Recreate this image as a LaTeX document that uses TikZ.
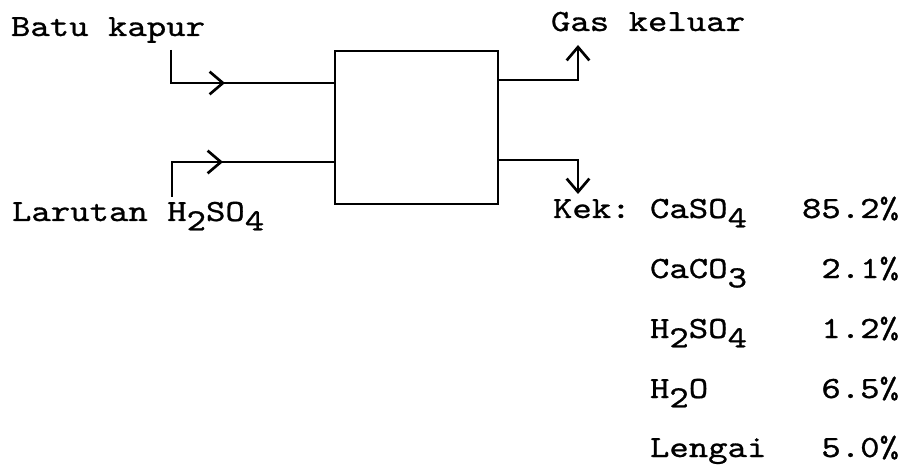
\documentclass[tikz,border=0pt]{standalone}
\usepackage{fontspec}
\newfontfamily\cour{lmmono10-regular.otf}[FakeStretch=1.2,FakeBold=0.9]
\usetikzlibrary{arrows.meta,decorations.markings}
\newcommand\sbs[1]{\raisebox{-7pt}{#1}}
\begin{document}
\begin{tikzpicture}[x=0.75pt,y=-0.75pt,
  lbl/.style={inner sep=0pt,outer sep=0pt,anchor=base west,font=\cour\fontsize{23.1}{28}\selectfont},
  num/.style={lbl,anchor=base east},
  flow/.style={line width=2pt},
  barbtip/.tip={Straight Barb[length=10pt,width=17pt]},
  midarrow/.style={postaction={decorate},decoration={markings,mark=at position #1 with {\arrow{barbtip}}}},
  unit/.style={draw,line width=2.2pt,rectangle,inner sep=0pt,outer sep=0pt,minimum width=122.25pt,minimum height=114.75pt}]
\useasboundingbox (0,0) rectangle (907,474);

\node[unit] (reactor) at (416.5,127.5) {};

\coordinate (batuin) at (171,50);
\coordinate (larin) at (172,197);
\coordinate (gasend) at (578,45);
\coordinate (kekend) at (578,194);

\draw[flow,midarrow=65.25pt] (batuin) |- (reactor.west |- 0,83);
\draw[flow,midarrow=64.5pt] (larin) |- (reactor.west |- 0,162);
\draw[flow,-barbtip] (reactor.east |- 0,80) -| (gasend);
\draw[flow,-barbtip] (reactor.east |- 0,160) -| (kekend);

\node[lbl] (batu) at (11,36) {Batu kapur};
\node[lbl] (larutan) at (12,221) {Larutan H\sbs{2}SO\sbs{4}};
\node[lbl] (gas) at (551,31) {Gas keluar};
\node[lbl] (kek) at (553,218) {Kek:};

\node[lbl] (f1) at (650,218) {CaSO\sbs{4}};
\node[lbl] (f2) at (650,278) {CaCO\sbs{3}};
\node[lbl] (f3) at (650,338) {H\sbs{2}SO\sbs{4}};
\node[lbl] (f4) at (650,398) {H\sbs{2}O};
\node[lbl] (f5) at (650,457) {Lengai};

\node[num] (p1) at (899,218) {85.2\%};
\node[num] (p2) at (899,278) {2.1\%};
\node[num] (p3) at (899,338) {1.2\%};
\node[num] (p4) at (899,398) {6.5\%};
\node[num] (p5) at (899,457) {5.0\%};
\end{tikzpicture}
\end{document}
